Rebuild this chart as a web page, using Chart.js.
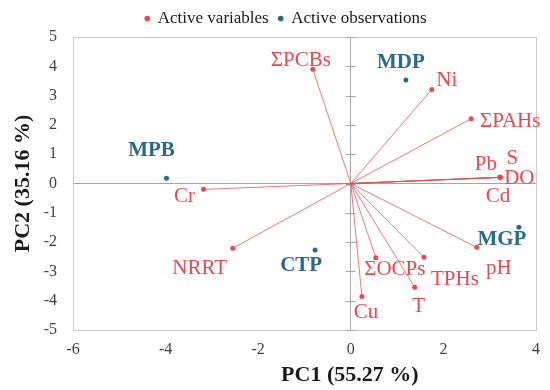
<!DOCTYPE html>
<html><head><meta charset="utf-8">
<script src="https://cdn.jsdelivr.net/npm/chart.js@4/dist/chart.umd.min.js"></script>
<style>html,body{margin:0;padding:0;background:#fff}#wrap{width:550px;height:390px;position:relative}</style>
</head><body><div id="wrap"><canvas id="c"></canvas></div>
<script>
// ---- data ----
const varNames = ['ΣPCBs','Ni','ΣPAHs','Pb','S','DO','Cd','Cr','NRRT','Cu','ΣOCPs','T','TPHs','pH'];
const varX = [-0.82, 1.75, 2.60, 3.22, 3.23, 3.23, 3.22, -3.18, -2.55, 0.24, 0.54, 1.38, 1.58, 2.72];
const varY = [3.90, 3.21, 2.21, 0.21, 0.21, 0.21, 0.21, -0.20, -2.21, -3.86, -2.53, -3.54, -2.52, -2.18];
const obsNames = ['MDP','MPB','CTP','MGP'];
const obsX = [1.19, -3.98, -0.77, 3.63];
const obsY = [3.53, 0.18, -2.27, -1.49];
const xTickValues = [-6, -4, -2, 0, 2, 4];
const yTickValues = [-5, -4, -3, -2, -1, 0, 1, 2, 3, 4, 5];
const xTitle = 'PC1 (55.27 %)';
const yTitle = 'PC2 (35.16 %)';

// ---- styling (label offsets in px from the point to the text centre) ----
const RED = 'rgb(232,72,78)';
const BLUE = 'rgb(40,106,140)';
const SERIF = "'Liberation Serif','Times New Roman',serif";
const LABEL_SIZE = 21;
const varLabelOffsets = [[-12,-10],[15,-10],[39,1],[-14,-14],[12,-20],[19,0],[-2,18],[-19,6],[-33,19],[4,14],[19,10],[4,18],[31,21],[22,20]];
const obsLabelOffsets = [[-5,-19],[-15,-29],[-14,14],[-17,11]];

const varData = varX.map((x, i) => ({x: x, y: varY[i]}));
const obsData = obsX.map((x, i) => ({x: x, y: obsY[i]}));

const pcaPlugin = {
  id: 'pcaExtras',
  afterLayout(chart) {
    // nudge the legend to the right, as in the reference
    if (chart.legend) { chart.legend.left += 16; chart.legend.right += 16; }
  },
  beforeDatasetsDraw(chart) {
    const {ctx, scales: {x, y}} = chart;
    const x0 = x.getPixelForValue(0), y0 = y.getPixelForValue(0);
    ctx.save();
    // crossing tick marks on the vertical zero axis
    ctx.strokeStyle = '#a6a6a6';
    ctx.lineWidth = 1;
    yTickValues.forEach(v => {
      const py = Math.round(y.getPixelForValue(v)) + 0.5;
      ctx.beginPath(); ctx.moveTo(x0 - 5, py); ctx.lineTo(x0 + 5, py); ctx.stroke();
    });
    // loading vectors from the origin
    ctx.strokeStyle = 'rgba(232,72,78,0.75)';
    ctx.lineWidth = 1;
    varX.forEach((vx, i) => {
      ctx.beginPath();
      ctx.moveTo(x0, y0);
      ctx.lineTo(x.getPixelForValue(vx), y.getPixelForValue(varY[i]));
      ctx.stroke();
    });
    ctx.restore();
  },
  afterDatasetsDraw(chart) {
    const {ctx, scales: {x, y}} = chart;
    ctx.save();
    ctx.textAlign = 'center';
    ctx.textBaseline = 'alphabetic';
    const size = LABEL_SIZE;
    ctx.font = size + 'px ' + SERIF;
    ctx.fillStyle = RED;
    varNames.forEach((n, i) => {
      const px = x.getPixelForValue(varX[i]) + varLabelOffsets[i][0];
      const py = y.getPixelForValue(varY[i]) + varLabelOffsets[i][1] + size * 0.33;
      ctx.fillText(n, px, py);
    });
    ctx.font = 'bold ' + size + 'px ' + SERIF;
    ctx.fillStyle = BLUE;
    obsNames.forEach((n, i) => {
      const px = x.getPixelForValue(obsX[i]) + obsLabelOffsets[i][0];
      const py = y.getPixelForValue(obsY[i]) + obsLabelOffsets[i][1] + size * 0.33;
      ctx.fillText(n, px, py);
    });
    // x axis title
    ctx.font = 'bold 22px ' + SERIF;
    ctx.fillStyle = '#1a1a1a';
    ctx.fillText(xTitle, x.getPixelForValue(0) - 1, 381);
    ctx.restore();
  }
};

const gridColor = (lo, hi) => c => {
  const v = c.tick.value;
  if (v === 0) return '#a6a6a6';
  if (v === lo || v === hi) return '#cccccc';
  return 'rgba(0,0,0,0)';
};

new Chart(document.getElementById('c'), {
  type: 'scatter',
  data: {
    datasets: [
      {
        label: 'Active variables', data: varData, showLine: false,
        backgroundColor: RED, pointBackgroundColor: RED, pointBorderWidth: 0,
        pointRadius: 2.5, pointHoverRadius: 2.5, pointStyle: 'circle'
      },
      {
        label: 'Active observations', data: obsData, showLine: false,
        backgroundColor: BLUE, pointBackgroundColor: BLUE, pointBorderWidth: 0,
        pointRadius: 2.5, pointHoverRadius: 2.5, pointStyle: 'circle'
      }
    ]
  },
  options: {
    responsive: true, maintainAspectRatio: false, animation: false,
    layout: {padding: {left: 0, right: 10, top: 0, bottom: 0}},
    plugins: {
      tooltip: {enabled: false},
      legend: {
        display: true, position: 'top',
        labels: {usePointStyle: true, boxWidth: 4, boxHeight: 4, padding: 10,
                 font: {family: SERIF, size: 17}, color: '#1a1a1a'}
      }
    },
    scales: {
      x: {
        type: 'linear', min: -6, max: 4,
        afterBuildTicks: s => { s.ticks = xTickValues.map(v => ({value: v})); },
        ticks: {font: {family: SERIF, size: 16}, color: '#404040', padding: 10},
        grid: {color: gridColor(-6, 4), drawTicks: false, lineWidth: 1},
        border: {display: true, color: '#cccccc'},
        afterFit: s => { s.height = 60; }
      },
      y: {
        type: 'linear', min: -5, max: 5,
        afterBuildTicks: s => { s.ticks = yTickValues.map(v => ({value: v})); },
        ticks: {font: {family: SERIF, size: 16}, color: '#404040', padding: 16},
        grid: {color: gridColor(-5, 5), drawTicks: false, lineWidth: 1},
        border: {display: true, color: '#cccccc'},
        title: {display: true, text: yTitle, font: {family: SERIF, size: 22, weight: 'bold'}, color: '#1a1a1a', padding: {top: 10, bottom: 4}},
        afterFit: s => { s.width = 73; }
      }
    }
  },
  plugins: [pcaPlugin]
});
</script>
</body></html>
